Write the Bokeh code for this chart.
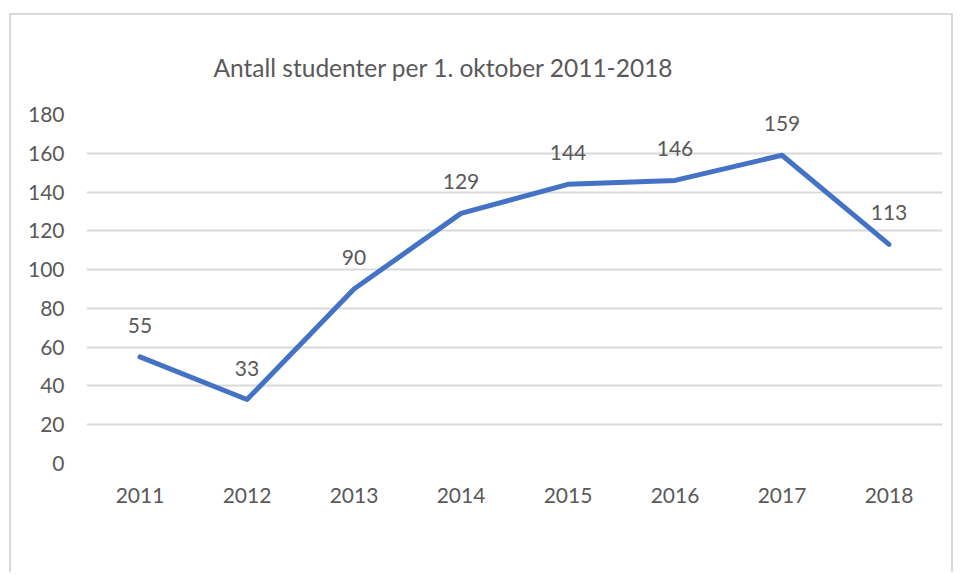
from bokeh.plotting import figure
from bokeh.models import ColumnDataSource, Range1d, FactorRange
from bokeh.embed import file_html
from bokeh.resources import INLINE
from bokeh.core.properties import value

years = ["2011", "2012", "2013", "2014", "2015", "2016", "2017", "2018"]
students = [55, 33, 90, 129, 144, 146, 159, 113]
y_ticks = [0, 20, 40, 60, 80, 100, 120, 140, 160, 180]
title_text = "Antall studenter per 1. oktober 2011-2018"

FONT = "Lato"
TXT = "#595959"

src = ColumnDataSource(dict(x=years, y=students, lab=[str(v) for v in students]))

p = figure(width=944, height=559, x_range=FactorRange(*years), y_range=Range1d(0, 180),
           output_backend="svg", toolbar_location=None,
           min_border_left=75, min_border_right=13, min_border_top=99, min_border_bottom=111)
p.styles = {"margin-left": "9px", "margin-top": "13px",
            "border-left": "2px solid #d9d9d9", "border-top": "2px solid #d9d9d9",
            "border-right": "2px solid #d9d9d9"}
p.outline_line_color = None
p.background_fill_color = "white"
p.border_fill_color = "white"

p.title.text = title_text
p.title.text_font = FONT
p.title.text_font_size = "24.5px"
p.title.text_font_style = "normal"
p.title.text_color = TXT
p.title.align = "left"
p.title.offset = 127
p.title.standoff = 66

p.line("x", "y", source=src, line_color="#4472C4", line_width=5, line_join="round", line_cap="round")
p.text("x", "y", text="lab", source=src, text_align="center", text_baseline="bottom",
       y_offset=-24, text_font=value(FONT), text_font_size="21px", text_color=TXT)

p.xgrid.grid_line_color = None
p.ygrid.grid_line_color = "#d9d9d9"
p.ygrid.grid_line_width = 2
p.yaxis.ticker = y_ticks
for ax in (p.xaxis[0], p.yaxis[0]):
    ax.axis_line_color = None
    ax.major_tick_line_color = None
    ax.minor_tick_line_color = None
    ax.major_label_text_font = FONT
    ax.major_label_text_font_size = "21px"
    ax.major_label_text_color = TXT
p.yaxis.major_label_standoff = 16
p.xaxis.major_label_standoff = 18
p.xaxis.group_text_font_size = "0px"

open("out.html", "w").write(file_html(p, INLINE))
